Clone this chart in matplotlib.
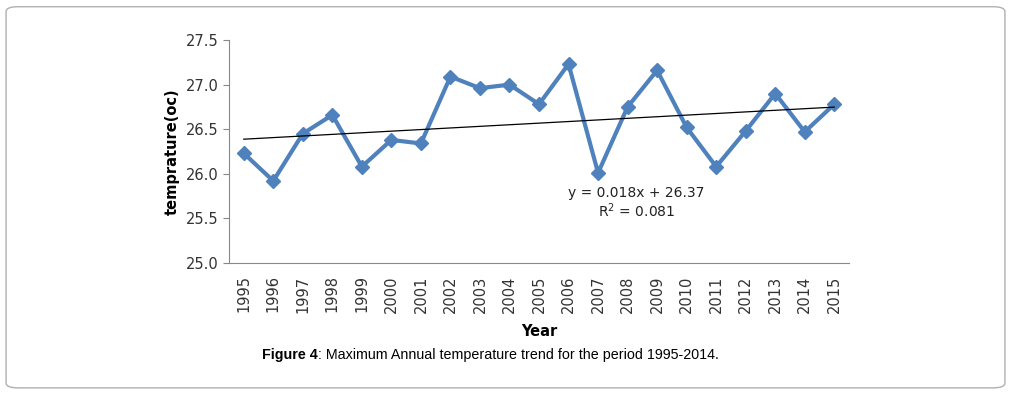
import matplotlib.pyplot as plt
import numpy as np
from matplotlib.patches import FancyBboxPatch

years = [str(y) for y in range(1995, 2016)]
temps = [26.23, 25.92, 26.45, 26.66, 26.08, 26.38, 26.34, 27.09, 26.96, 27.0,
         26.78, 27.23, 26.01, 26.75, 27.16, 26.52, 26.08, 26.48, 26.90, 26.47, 26.78]
slope = 0.018
intercept = 26.37
r2 = 0.081
yticks = [25.0, 25.5, 26.0, 26.5, 27.0, 27.5]

fig = plt.figure(figsize=(10.11, 3.95), dpi=100)

# rounded frame around the whole figure
frame = FancyBboxPatch((0.006, 0.018), 0.988, 0.965, boxstyle="round,pad=0,rounding_size=0.012",
                       transform=fig.transFigure, fill=False, edgecolor='#b0b0b0', linewidth=1)
fig.patches.append(frame)

ax = fig.add_axes([0.2265, 0.3342, 0.6133, 0.5645])
x = np.arange(len(years))
ax.plot(x, temps, color='#4F81BD', linewidth=3, marker='D', markersize=7)

xs = np.array([x[0], x[-1]])
ax.plot(xs, slope * (xs + 1) + intercept, color='black', linewidth=0.9)

ax.set_xlim(-0.5, len(years) - 0.5)
ax.set_ylim(25.0, 27.5)
ax.set_yticks(yticks)
ax.set_yticklabels(['%.1f' % v for v in yticks], fontsize=10.5, color='#333333')
ax.set_xticks(x)
ax.set_xticklabels(years, rotation=90, fontsize=10.5, color='#333333')
ax.tick_params(axis='x', length=0, pad=9)
ax.tick_params(axis='y', length=4, color='#888888')

for s in ['top', 'right']:
    ax.spines[s].set_visible(False)
for s in ['left', 'bottom']:
    ax.spines[s].set_color('#888888')

ax.set_ylabel('temprature(oc)', fontsize=10.5, fontweight='bold', labelpad=4)
ax.set_xlabel('Year', fontsize=10.5, fontweight='bold', labelpad=8)

ax.text(13.3, 25.74, 'y = 0.018x + 26.37', fontsize=10, ha='center', color='#222222')
ax.text(13.3, 25.52, 'R$^2$ = 0.081', fontsize=10, ha='center', color='#222222')

cap = fig.text(0.259, 0.09, 'Figure 4', fontsize=10.3, fontweight='bold', family='Liberation Sans', ha='left')
fig.text(0.0, 0.0, ': Maximum Annual temperature trend for the period 1995-2014.', fontsize=10.3,
         family='Liberation Sans', ha='left', transform=cap.get_transform())
fig.canvas.draw()
bb = cap.get_window_extent()
fig.texts[-1].set_position((bb.x1 / fig.bbox.width, 0.09))

fig.savefig('out.png', dpi=100)
